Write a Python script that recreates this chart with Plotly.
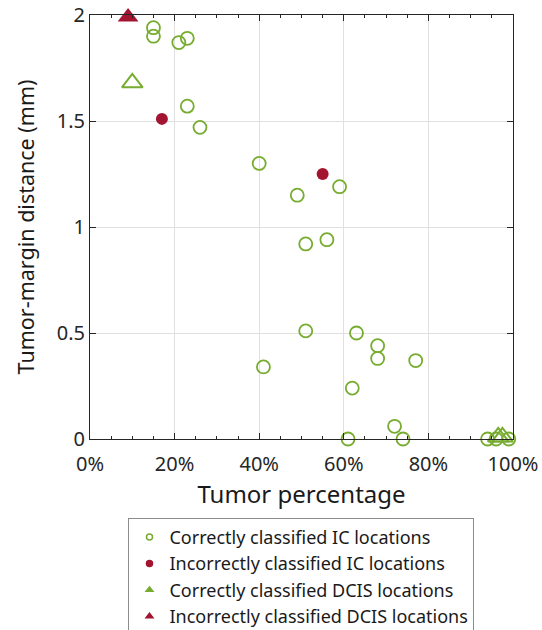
import plotly.graph_objects as go

# Correctly classified IC locations
ic_ok_x = [15, 15, 21, 23, 23, 26, 40, 49, 59, 51, 56, 51, 63, 68, 68, 77, 41, 62, 72, 61, 74, 94, 96, 99]
ic_ok_y = [1.94, 1.90, 1.87, 1.89, 1.57, 1.47, 1.30, 1.15, 1.19, 0.92, 0.94, 0.51, 0.50, 0.44, 0.38, 0.37, 0.34, 0.24, 0.06, 0, 0, 0, 0, 0]
# Incorrectly classified IC locations
ic_bad_x = [17, 55]
ic_bad_y = [1.51, 1.25]
# Correctly classified DCIS locations
dcis_ok_x = [10, 96.5, 97.5]
dcis_ok_y = [1.68, 0.01, 0.01]
# Incorrectly classified DCIS locations
dcis_bad_x = [9]
dcis_bad_y = [1.99]

x_ticks = [0, 20, 40, 60, 80, 100]
x_tick_text = ["0%", "20%", "40%", "60%", "80%", "100%"]
y_ticks = [0, 0.5, 1, 1.5, 2]
y_tick_text = ["0", "0.5", "1", "1.5", "2"]

GREEN = "#77AC30"
RED = "#A2142F"
FONT = "Noto Sans, Open Sans, sans-serif"

fig = go.Figure()

fig.add_trace(go.Scatter(x=ic_ok_x, y=ic_ok_y, mode="markers", showlegend=False, cliponaxis=False,
                         marker=dict(symbol="circle-open", size=13, color=GREEN, line=dict(width=1.8, color=GREEN))))
fig.add_trace(go.Scatter(x=ic_bad_x, y=ic_bad_y, mode="markers", showlegend=False, cliponaxis=False,
                         marker=dict(symbol="circle", size=12, color=RED)))
fig.add_trace(go.Scatter(x=dcis_ok_x, y=dcis_ok_y, mode="markers", showlegend=False, cliponaxis=False,
                         marker=dict(symbol="triangle-up-open", size=18, color=GREEN, line=dict(width=2, color=GREEN))))
fig.add_trace(go.Scatter(x=dcis_bad_x, y=dcis_bad_y, mode="markers", showlegend=False, cliponaxis=False,
                         marker=dict(symbol="triangle-up", size=18, color=RED)))

# legend-only entries with small markers
legend_items = [
    ("Correctly classified IC locations", "circle-open", GREEN),
    ("Incorrectly classified IC locations", "circle", RED),
    ("Correctly classified DCIS locations", "triangle-up", GREEN),
    ("Incorrectly classified DCIS locations", "triangle-up", RED),
]
for i, (name, sym, col) in enumerate(legend_items):
    fig.add_trace(go.Scatter(x=[None], y=[None], mode="markers", name=name, legendgroup=str(i),
                             marker=dict(symbol=sym, size=6, color=col, line=dict(width=1.5, color=col))))

axis_common = dict(showline=True, linecolor="#262626", linewidth=1, mirror="ticks",
                   ticks="inside", ticklen=6, tickcolor="#262626", automargin=False,
                   showgrid=True, gridcolor="#e0e0e0", gridwidth=1, zeroline=False,
                   tickfont=dict(family=FONT, size=20, color="#262626"))

fig.update_layout(
    width=542, height=630,
    margin=dict(l=89.5, r=29.3, t=15.3, b=190.7, autoexpand=False),
    paper_bgcolor="white", plot_bgcolor="white",
    font=dict(family=FONT, color="#262626"),
    xaxis=dict(range=[0, 100], tickvals=x_ticks, ticktext=x_tick_text, ticklabelstandoff=7,
               minor=dict(dtick=5, tick0=0, ticks="inside", ticklen=3, tickcolor="#262626", showgrid=False),
               title=dict(text="Tumor percentage", font=dict(family=FONT, size=24, color="#1a1a1a"), standoff=4),
               **axis_common),
    yaxis=dict(range=[0, 2], tickvals=y_ticks, ticktext=y_tick_text,
               title=dict(text="Tumor-margin distance (mm)", font=dict(family=FONT, size=21.5, color="#1a1a1a"), standoff=16),
               **axis_common),
    legend=dict(x=0.091, y=-0.186, xanchor="left", yanchor="top",
                bordercolor="#8c8c8c", borderwidth=1, bgcolor="white",
                font=dict(family=FONT, size=18, color="#1a1a1a"),
                tracegroupgap=0, itemwidth=30),
)

fig.write_html("out.html")
